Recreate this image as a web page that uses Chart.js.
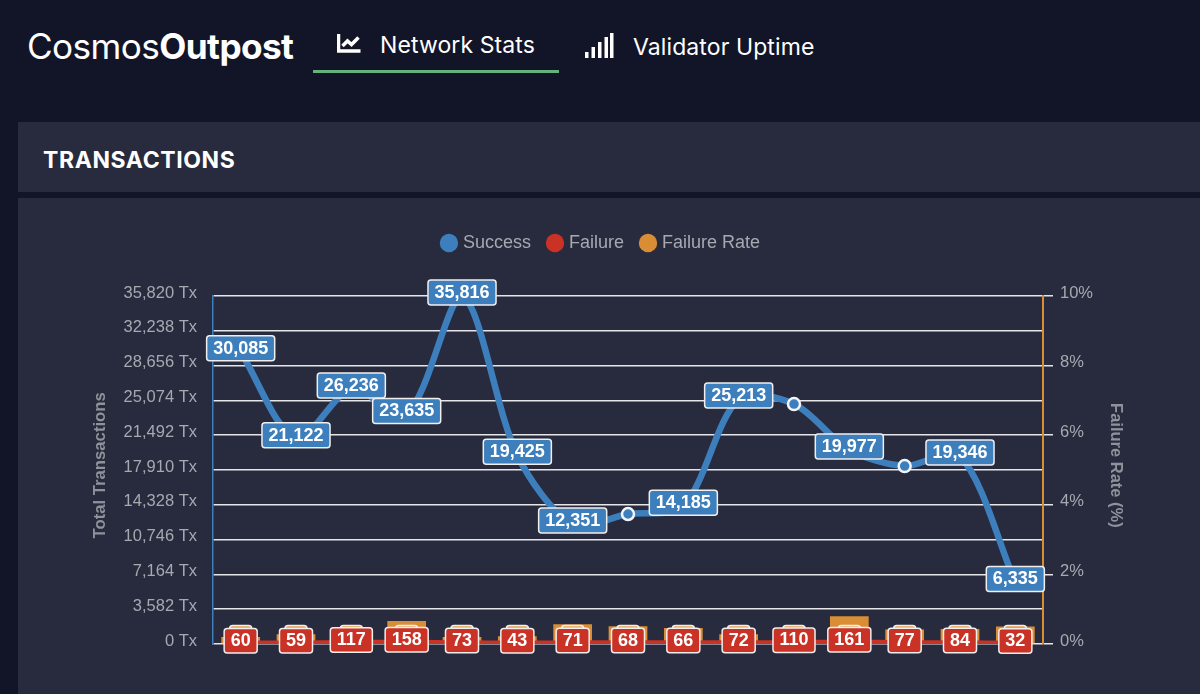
<!DOCTYPE html>
<html lang="en">
<head>
    <meta charset="UTF-8">
    <title>CosmosOutpost - Network Stats</title>
    <script src="https://cdn.jsdelivr.net/npm/chart.js"></script>
    <style>
        html, body {
            margin: 0;
            height: 694px;
            overflow: hidden;
            background: #121527;
            color: #fff;
            font-family: Inter, "Liberation Sans", sans-serif;
        }
        .top { position: absolute; white-space: nowrap; }
        .brand { left: 27px; top: 25px; font-size: 35.2px; letter-spacing: -0.6px; line-height: 42px; }
        .brand b { font-weight: 700; }
        .nav { font-size: 23px; line-height: 30px; letter-spacing: 0.1px; }
        .underline { position: absolute; left: 313px; top: 70px; width: 246px; height: 3px; background: #64b27c; }
        .icon { position: absolute; }
        .panel { position: absolute; left: 18px; width: 1182px; background: #272b3d; }
        #head { top: 122px; height: 70px; }
        #head h2 {
            margin: 0; position: absolute; left: 25px; top: 24px;
            font-size: 23px; line-height: 28px; font-weight: 700; letter-spacing: 0.6px;
        }
        #body { top: 198px; height: 496px; }
        #chartBox { position: absolute; left: 0; top: 198px; width: 1200px; height: 496px; }
    </style>
</head>
<body>
    <div class="top brand">Cosmos<b>Outpost</b></div>

    <svg class="icon" style="left:337px;top:33px" width="26" height="22" viewBox="0 0 26 22">
        <path d="M1.500 1v17h22" fill="none" stroke="#fff" stroke-width="3.500"/>
        <path d="M5.500 13l5-5 4 3.500 7-7" fill="none" stroke="#fff" stroke-width="3.500"/>
    </svg>
    <div class="top nav" style="left:380px;top:30px">Network Stats</div>
    <div class="underline"></div>

    <svg class="icon" style="left:584px;top:32px" width="30" height="27" viewBox="0 0 30 27" fill="#fff">
        <rect x="1" y="20" width="3.500" height="6"/>
        <rect x="7.500" y="15" width="3.500" height="11"/>
        <rect x="14" y="10" width="3.500" height="16"/>
        <rect x="20.500" y="5" width="3.500" height="21"/>
        <rect x="26" y="1" width="3.500" height="25"/>
    </svg>
    <div class="top nav" style="left:633px;top:32px">Validator Uptime</div>

    <div class="panel" id="head"><h2>TRANSACTIONS</h2></div>
    <div class="panel" id="body"></div>

    <div id="chartBox"><canvas id="txChart"></canvas></div>

    <script>
        const days = ['1', '2', '3', '4', '5', '6', '7', '8', '9', '10', '11', '12', '13', '14', '15'];
        const success = [30085, 21122, 26236, 23635, 35816, 19425, 12351, 13380, 14185, 25213, 24700, 19977, 18320, 19346, 6335];
        const failure = [60, 59, 117, 158, 73, 43, 71, 68, 66, 72, 110, 161, 77, 84, 32];
        const failureRate = [0.2, 0.28, 0.44, 0.66, 0.2, 0.22, 0.57, 0.51, 0.46, 0.28, 0.44, 0.8, 0.42, 0.43, 0.5];
        const leftMax = 35820;
        const leftStep = 3582;
        const hiddenLabels = [7, 10, 12]; // these labels were dropped to avoid overlap

        const BLUE = '#3d7fbd';
        const RED = '#c93225';
        const ORANGE = '#d98e36';
        const FONT = '"Liberation Sans", sans-serif';

        function roundBox(c, x, y, w, h, r, fill) {
            c.beginPath();
            c.roundRect(x, y, w, h, r);
            c.fillStyle = fill;
            c.fill();
            c.lineWidth = 1.5;
            c.strokeStyle = '#f1eeee';
            c.stroke();
        }

        // small boxed value labels, no datalabels plugin here
        const boxLabels = {
            id: 'boxLabels',
            afterDatasetsDraw(chart) {
                const c = chart.ctx;
                c.save();
                c.font = 'bold 18px ' + FONT;
                c.textAlign = 'center';
                c.textBaseline = 'middle';

                chart.getDatasetMeta(2).data.forEach((bar) => {
                    roundBox(c, bar.x - 11, chart.chartArea.bottom - 18.500, 22, 14, 3, '#e2a04e');
                });
                chart.getDatasetMeta(1).data.forEach((pt, i) => {
                    const w = c.measureText(failure[i]).width + 13;
                    roundBox(c, pt.x - w / 2, pt.y - 15, w, 24.500, 3, RED);
                    c.fillStyle = '#fff';
                    c.fillText(failure[i], pt.x, pt.y - 2.500);
                });
                chart.getDatasetMeta(0).data.forEach((pt, i) => {
                    if (hiddenLabels.includes(i)) return;
                    const txt = success[i].toLocaleString('en-US');
                    const w = c.measureText(txt).width + 13;
                    roundBox(c, pt.x - w / 2, pt.y - 16, w, 25, 3, BLUE);
                    c.fillStyle = '#fff';
                    c.fillText(txt, pt.x, pt.y - 3);
                });
                c.restore();
            }
        };

        // more room between legend and plot
        const legendGap = {
            id: 'legendGap',
            beforeInit(chart) {
                const fit = chart.legend.fit;
                chart.legend.fit = function () {
                    fit.call(this);
                    this.height += 34;
                };
            }
        };

        new Chart(document.getElementById('txChart'), {
            data: {
                labels: days,
                datasets: [
                    {
                        type: 'line', label: 'Success', data: success, yAxisID: 'y',
                        borderColor: BLUE, backgroundColor: BLUE, borderWidth: 6.500,
                        tension: 0.3,
                        pointRadius: 6, pointBackgroundColor: BLUE,
                        pointBorderColor: '#f1f4f8', pointBorderWidth: 2.500, order: 1
                    },
                    {
                        type: 'line', label: 'Failure', data: failure, yAxisID: 'y',
                        borderColor: RED, backgroundColor: RED, borderWidth: 6,
                        tension: 0.3, pointRadius: 0, order: 0
                    },
                    {
                        type: 'bar', label: 'Failure Rate', data: failureRate, yAxisID: 'y1',
                        backgroundColor: ORANGE, barPercentage: 0.7, categoryPercentage: 1, order: 2
                    }
                ]
            },
            options: {
                responsive: true,
                maintainAspectRatio: false,
                animation: false,
                layout: { padding: { left: 62, right: 58, top: 17, bottom: 50 } },
                plugins: {
                    tooltip: { enabled: false },
                    legend: {
                        position: 'top',
                        labels: {
                            usePointStyle: true,
                            pointStyle: 'circle',
                            boxWidth: 10,
                            boxHeight: 13,
                            padding: 19,
                            color: '#a7a9b1',
                            font: { family: FONT, size: 18 },
                            sort: (a, b) => a.datasetIndex - b.datasetIndex,
                            generateLabels(chart) {
                                const items = Chart.defaults.plugins.legend.labels.generateLabels(chart);
                                items.forEach(it => { it.lineWidth = 0; it.pointStyle = 'circle'; });
                                return items;
                            }
                        }
                    }
                },
                scales: {
                    x: { display: false, offset: true, grid: { display: false } },
                    y: {
                        position: 'left', min: 0, max: leftMax,
                        afterBuildTicks(axis) {
                            axis.ticks = [];
                            for (let v = 0; v <= leftMax; v += leftStep) axis.ticks.push({ value: v });
                        },
                        afterFit(axis) { axis.width = 151; },
                        border: { color: BLUE, width: 1.500 },
                        grid: { color: '#e6e6e9', lineWidth: 1.500, tickLength: 0 },
                        title: {
                            display: true, text: '\u00a0\u00a0Total Transactions', color: '#8f919b',
                            padding: { top: 28, bottom: 0 },
                            font: { family: FONT, size: 16.700, weight: 'bold' }
                        },
                        ticks: {
                            color: '#a7a9b1', padding: 16, autoSkip: false, labelOffset: -3,
                            font: { family: FONT, size: 16.500 },
                            callback: v => v.toLocaleString('en-US') + ' Tx'
                        }
                    },
                    y1: {
                        position: 'right', min: 0, max: 10,
                        afterFit(axis) { axis.width = 99; },
                        border: { color: ORANGE, width: 2 },
                        grid: { drawOnChartArea: false, color: '#e6e6e9', lineWidth: 1.500, tickLength: 10 },
                        title: {
                            display: true, text: 'Failure Rate (%)\u00a0\u00a0', color: '#8f919b',
                            padding: { top: 17, bottom: 0 },
                            font: { family: FONT, size: 16.500, weight: 'bold' }
                        },
                        ticks: {
                            color: '#a7a9b1', padding: 7, stepSize: 2, labelOffset: -3,
                            font: { family: FONT, size: 16.500 },
                            callback: v => v + '%'
                        }
                    }
                }
            },
            plugins: [boxLabels, legendGap]
        });
    </script>
</body>
</html>
